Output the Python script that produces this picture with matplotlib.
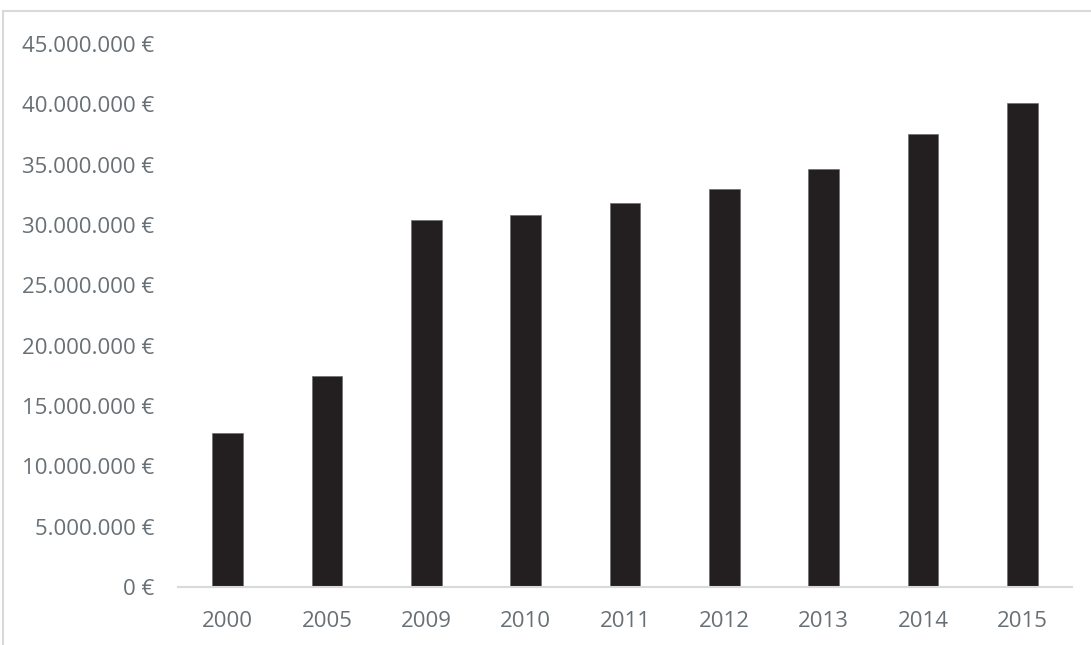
import matplotlib
matplotlib.use("Agg")
import matplotlib.pyplot as plt
from matplotlib.patches import Rectangle

plt.rcParams['font.family'] = ['Open Sans', 'DejaVu Sans']

# values
years = ["2000", "2005", "2009", "2010", "2011", "2012", "2013", "2014", "2015"]
amounts = [12.8e6, 17.5e6, 30.45e6, 30.8e6, 31.8e6, 33.0e6, 34.6e6, 37.5e6, 40.1e6]
y_ticks = [0, 5e6, 10e6, 15e6, 20e6, 25e6, 30e6, 35e6, 40e6, 45e6]


def euro(v):
    # 45000000 -> "45.000.000 €"
    return "{:,.0f}".format(v).replace(",", ".") + " €"


fig = plt.figure(figsize=(10.91, 6.45), dpi=100)
ax = fig.add_axes([178 / 1091, 1 - 587 / 645, (1072 - 178) / 1091, (587 - 44) / 645])

ax.bar(range(len(years)), amounts, width=0.31, color="#231f20",
       edgecolor="#6e6e6e", linewidth=0.5)

ax.set_xlim(-0.5, len(years) - 0.5)
ax.set_ylim(0, 45e6)
ax.set_yticks(y_ticks)
ax.set_yticklabels([euro(v) for v in y_ticks])
ax.set_xticks(range(len(years)))
ax.set_xticklabels(years)

for s in ["top", "right", "left"]:
    ax.spines[s].set_visible(False)
ax.spines["bottom"].set_color("#d9d9d9")
ax.spines["bottom"].set_linewidth(1.5)

ax.tick_params(axis="y", length=0, pad=17, labelsize=16, labelcolor="#687075")
ax.tick_params(axis="x", length=0, pad=17, labelsize=16, labelcolor="#687075")

# light frame of the original chart area (cropped at right/bottom)
fig.add_artist(Rectangle((3 / 1091, -0.1), 1.2, 1 - 11 / 645 + 0.1,
                         transform=fig.transFigure, fill=False,
                         edgecolor="#d9d9d9", linewidth=1.5))

fig.savefig("out.png", dpi=100)
